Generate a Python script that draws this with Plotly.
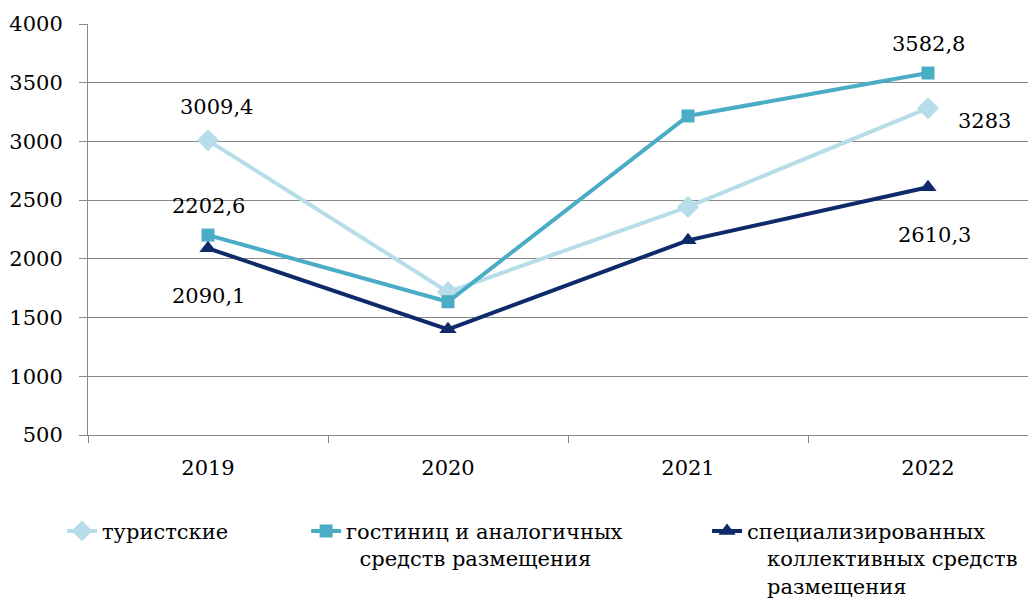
import plotly.graph_objects as go

years = ["2019", "2020", "2021", "2022"]

tourist = [3009.4, 1718, 2442, 3283]
hotels = [2202.6, 1635, 3217, 3582.8]
special = [2090.1, 1400, 2158, 2610.3]

names = [
    "туристские",
    "гостиниц и аналогичных<br>&nbsp;&nbsp;средств размещения",
    "специализированных<br>&nbsp;&nbsp;&nbsp;коллективных средств<br>&nbsp;&nbsp;&nbsp;размещения",
]

FONT = "DejaVu Serif"

fig = go.Figure()
fig.add_trace(go.Scatter(
    x=years, y=tourist, name=names[0], mode="lines+markers", legend="legend",
    line=dict(color="#B7DDE8", width=4),
    marker=dict(symbol="diamond", size=17, color="#B7DDE8")
))
fig.add_trace(go.Scatter(
    x=years, y=hotels, name=names[1], mode="lines+markers", legend="legend2",
    line=dict(color="#4BACC6", width=4),
    marker=dict(symbol="square", size=13, color="#4BACC6")
))
fig.add_trace(go.Scatter(
    x=years, y=special, name=names[2], mode="lines+markers", legend="legend3",
    line=dict(color="#0E2A6A", width=4),
    marker=dict(symbol="triangle-up", size=15, color="#0E2A6A")
))


def fmt(v):
    return ("%g" % v).replace(".", ",")


# data labels only at first and last year: (series, index, xshift, yshift)
labels = [
    (tourist, 0, 8, 33),
    (tourist, 3, 56, -13),
    (hotels, 0, 0, 29),
    (hotels, 3, 0, 29),
    (special, 0, 0, -48),
    (special, 3, 6, -48),
]
annotations = []
for series, i, dx, dy in labels:
    annotations.append(dict(
        x=i, y=series[i], xref="x", yref="y", text=fmt(series[i]),
        showarrow=False, xshift=dx, yshift=dy,
        font=dict(family=FONT, size=21, color="black"),
    ))


def legend_at(x):
    return dict(orientation="h", xref="container", yref="container",
                x=x, y=0.155, xanchor="left", yanchor="top", valign="top",
                bgcolor="rgba(0,0,0,0)",
                font=dict(family=FONT, size=21, color="black"))


# page body has an 8px margin, so the figure is 8px smaller than the window
fig.update_layout(
    width=1028, height=595,
    margin=dict(l=80, r=0, t=16, b=168),
    plot_bgcolor="white", paper_bgcolor="white",
    font=dict(family=FONT, size=21, color="black"),
    annotations=annotations,
    showlegend=True,
    legend=legend_at(0.0525),
    legend2=legend_at(0.290),
    legend3=legend_at(0.680),
)
fig.update_xaxes(
    range=[-0.5, 3.45], showgrid=False,
    showline=True, linecolor="#888888", linewidth=1,
    ticks="outside", tickson="boundaries", ticklen=7, tickcolor="#888888",
    ticklabelstandoff=14,
)
fig.update_yaxes(
    range=[500, 4000], dtick=500, showgrid=True, gridcolor="#888888", gridwidth=1,
    showline=True, linecolor="#888888", linewidth=1, zeroline=False,
    ticks="outside", ticklen=8, tickcolor="#888888",
    ticklabelstandoff=12,
)

fig.write_html("out.html")
